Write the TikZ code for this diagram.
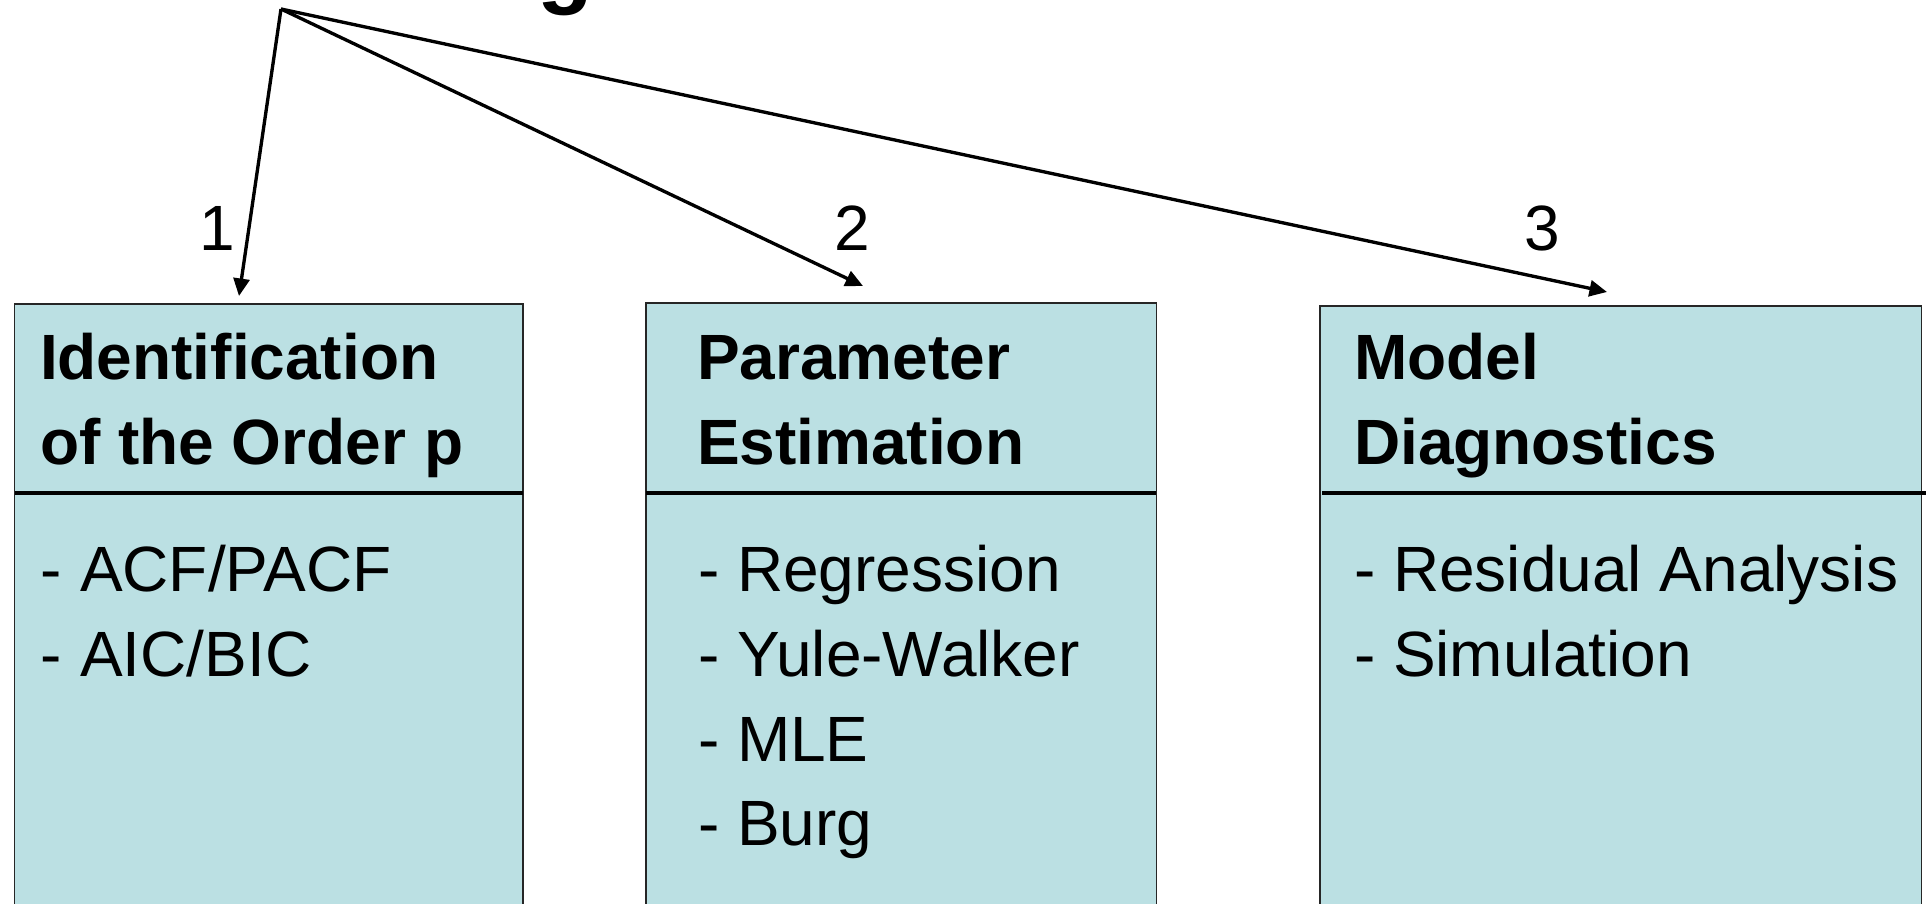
\documentclass[tikz,border=0pt]{standalone}
\usepackage{fontspec}
\setmainfont{Liberation Sans}
\usetikzlibrary{arrows.meta}
\definecolor{boxfill}{RGB}{187,224,227}
\begin{document}
\begin{tikzpicture}[x=0.01cm,y=-0.01cm,
  box/.style={draw=black!85, line width=0.45pt, fill=boxfill, anchor=north west, inner sep=0, outer sep=0},
  divline/.style={draw=black, line width=0.9pt},
  conn/.style={draw=black, line width=0.95pt, -{Triangle[length=0.175cm,width=0.16cm]}},
  txt/.style={font=\fontsize{18.2}{22}\selectfont, anchor=base west, inner sep=0, outer sep=0},
  head/.style={font=\fontsize{18.2}{22}\selectfont\bfseries, anchor=base west, inner sep=0, outer sep=0},
  num/.style={font=\fontsize{18.2}{22}\selectfont, anchor=base, inner sep=0},
  titletxt/.style={font=\fontsize{26}{30}\selectfont\bfseries, anchor=base west, inner sep=0},
]
\useasboundingbox (0,0) rectangle (1928,903);

% partially visible title
\node[titletxt] (title) at (537,-3) {g};

% boxes
\node[box, minimum width=5.08cm, minimum height=6.3cm] (b1) at (14.5,304) {};
\node[box, minimum width=5.10cm, minimum height=6.3cm] (b2) at (646,303) {};
\node[box, minimum width=6.01cm, minimum height=6.3cm] (b3) at (1320,306) {};

% dividers
\coordinate (dy) at (0,493);
\draw[divline] (b1.west |- dy) -- (b1.east |- dy);
\draw[divline] (b2.west |- dy) -- (b2.east |- dy);
\coordinate (d3a) at (1322,493);
\coordinate (d3b) at (1926,493);
\draw[divline] (d3a) -- (d3b);

% box 1 text
\node[head] (h1a) at (40,379) {Identification};
\node[head] (h1b) at (40,464) {of the Order p};
\node[txt] (i1a) at (41,591) {- ACF/PACF};
\node[txt] (i1b) at (41,676) {- AIC/BIC};

% box 2 text
\node[head] (h2a) at (697,379) {Parameter};
\node[head] (h2b) at (697,464) {Estimation};
\node[txt] (i2a) at (698,591) {- Regression};
\node[txt] (i2b) at (698,676) {- Yule-Walker};
\node[txt] (i2c) at (698,761) {- MLE};
\node[txt] (i2d) at (698,845) {- Burg};

% box 3 text
\node[head] (h3a) at (1354,379) {Model};
\node[head] (h3b) at (1354,464) {Diagnostics};
\node[txt] (i3a) at (1354,591) {- Residual Analysis};
\node[txt] (i3b) at (1354,676) {- Simulation};

% numbers
\node[num] (n1) at (217,250) {1};
\node[num] (n2) at (852,250) {2};
\node[num] (n3) at (1542,250) {3};

% arrows
\coordinate (apex) at (281,9);
\coordinate (t1) at (239,296);
\coordinate (t2) at (863,286);
\coordinate (t3) at (1607,292);
\draw[conn] (apex) -- (t1);
\draw[conn] (apex) -- (t2);
\draw[conn] (apex) -- (t3);
\end{tikzpicture}
\end{document}
